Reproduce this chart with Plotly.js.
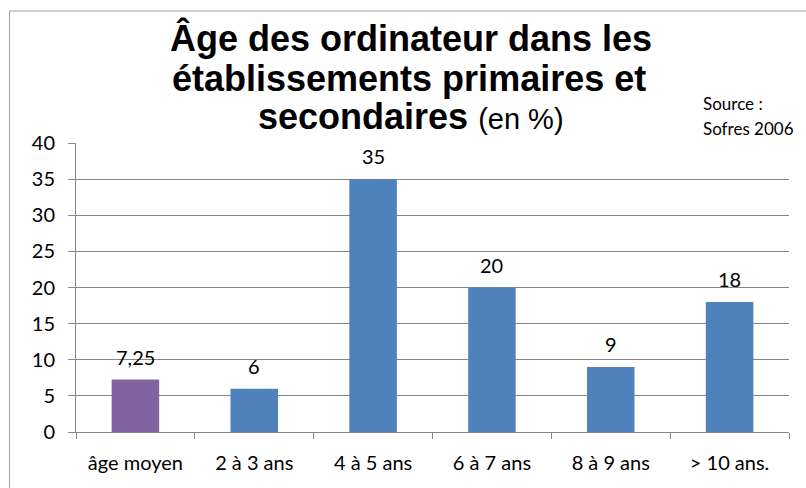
<!DOCTYPE html>
<html>
<head>
<meta charset="utf-8">
<script src="https://cdn.plot.ly/plotly-3.0.1.min.js"></script>
<style>html,body{margin:0;padding:0;background:#fff;}#chart{width:806px;height:488px;}</style>
</head>
<body>
<div id="chart"></div>
<script>
const categories = ["âge moyen", "2 à 3 ans", "4 à 5 ans", "6 à 7 ans", "8 à 9 ans", "> 10 ans."];
const values = [7.25, 6, 35, 20, 9, 18];
const valueLabels = ["7,25", "6", "35", "20", "9", "18"];
const barColors = ["#8064A2", "#4F81BD", "#4F81BD", "#4F81BD", "#4F81BD", "#4F81BD"];
const yTicks = [0, 5, 10, 15, 20, 25, 30, 35, 40];
const titleLines = ["Âge des ordinateur dans les", "établissements primaires et", "secondaires"];
const titleSuffix = "(en %)";
const sourceLines = ["Source :", "Sofres 2006"];

const L = 76, R = 17, T = 143, B = 56, W = 806, H = 488;
const pw = W - L - R, ph = H - T - B;
const px = x => (x - L) / pw;
const py = y => (H - B - y) / ph;

const lblFamily = "Lato, 'Open Sans', sans-serif";
const lblFont = {family: lblFamily, size: 20, color: "#000"};
const titleFamily = "'Liberation Sans', Arial, sans-serif";

const trace = {
  type: "bar",
  x: categories,
  y: values,
  marker: {color: barColors},
  width: 0.4,
  hoverinfo: "none"
};

const annotations = [];
categories.forEach((c, i) => {
  annotations.push({
    text: valueLabels[i], x: c, y: values[i], xref: "x", yref: "y",
    xanchor: "center", yanchor: "middle", yshift: 23, showarrow: false,
    font: lblFont
  });
});
const titleY = [38, 78, 117];
annotations.push({text: titleLines[0], xref: "paper", yref: "paper", x: px(411), y: py(titleY[0]), xanchor: "center", yanchor: "middle", showarrow: false, font: {family: titleFamily, size: 36, color: "#000", weight: "bold"}});
annotations.push({text: titleLines[1], xref: "paper", yref: "paper", x: px(409), y: py(titleY[1]), xanchor: "center", yanchor: "middle", showarrow: false, font: {family: titleFamily, size: 36, color: "#000", weight: "bold"}});
annotations.push({text: titleLines[2] + " <span style=\"font-weight:normal;font-size:29px\">" + titleSuffix + "</span>", xref: "paper", yref: "paper", x: px(411), y: py(titleY[2]), xanchor: "center", yanchor: "middle", showarrow: false, font: {family: titleFamily, size: 36, color: "#000", weight: "bold"}});
annotations.push({text: sourceLines[0], xref: "paper", yref: "paper", x: px(701), y: py(103), xanchor: "left", yanchor: "middle", showarrow: false, font: {family: lblFamily, size: 17, color: "#000"}});
annotations.push({text: sourceLines[1], xref: "paper", yref: "paper", x: px(701), y: py(128), xanchor: "left", yanchor: "middle", showarrow: false, font: {family: lblFamily, size: 17, color: "#000"}});

const layout = {
  width: W, height: H,
  margin: {l: L, r: R, t: T, b: B, pad: 0},
  paper_bgcolor: "#fff",
  plot_bgcolor: "#fff",
  showlegend: false,
  xaxis: {
    type: "category",
    tickson: "boundaries",
    ticks: "outside", ticklen: 6, tickcolor: "#868686",
    showline: true, linecolor: "#868686", linewidth: 1,
    showgrid: false,
    tickfont: lblFont,
    ticklabelstandoff: 13,
    fixedrange: true
  },
  yaxis: {
    range: [0, 40],
    tickvals: yTicks,
    ticks: "outside", ticklen: 7, tickcolor: "#868686",
    showline: true, linecolor: "#868686", linewidth: 1,
    showgrid: true, gridcolor: "#868686", gridwidth: 1,
    zeroline: false,
    tickfont: lblFont,
    ticklabelstandoff: 9,
    fixedrange: true
  },
  annotations: annotations,
  shapes: [
    {type: "line", xref: "paper", yref: "paper", x0: px(9), x1: px(806), y0: py(11), y1: py(11), line: {color: "#a0a0a0", width: 1}},
    {type: "line", xref: "paper", yref: "paper", x0: px(9.5), x1: px(9.5), y0: py(11), y1: py(488), line: {color: "#a0a0a0", width: 1}}
  ]
};

Plotly.newPlot("chart", [trace], layout, {displayModeBar: false, staticPlot: true});
</script>
</body>
</html>
